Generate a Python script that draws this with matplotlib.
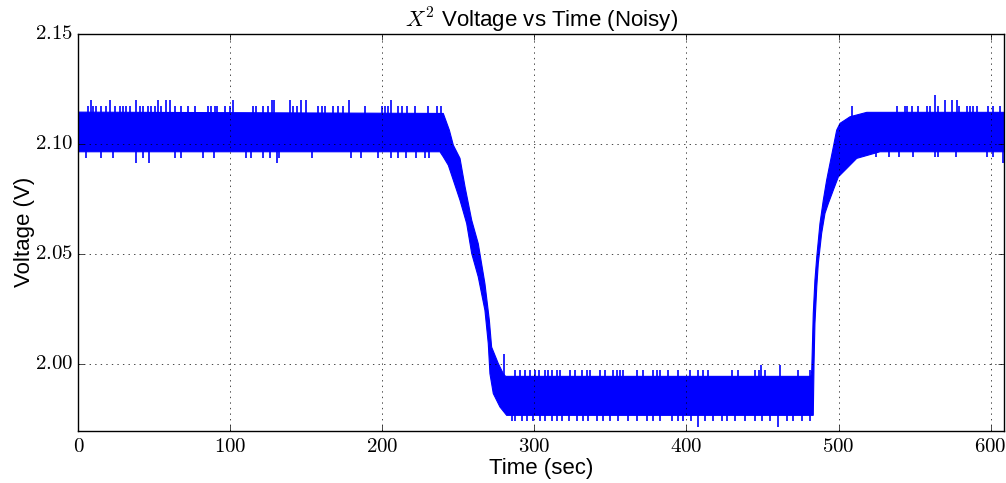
import numpy as np
import matplotlib
matplotlib.use('Agg')
import matplotlib.pyplot as plt
from matplotlib.ticker import FuncFormatter

# envelope of the noisy band (time in sec, volts)
t_upper = [0, 240.0, 244.0, 246.6, 251.0, 254.3, 258.7, 263.0, 267.4, 270.3,
           271.8, 276.2, 279.5, 281.0, 481.8, 482.4, 483.4, 484.5, 485.7, 487.8,
           490.0, 492.2, 494.4, 496.6, 498.8, 501.0, 507.6, 518.6, 609.2]
v_upper = [2.1143, 2.1137, 2.1061, 2.0993, 2.0933, 2.0804, 2.0652, 2.0546, 2.0364, 2.0198,
           2.0076, 2.0001, 1.9955, 1.9943, 1.9943, 1.9970, 2.0228, 2.0380, 2.0485, 2.0637,
           2.0743, 2.0834, 2.0910, 2.0985, 2.1061, 2.1092, 2.1122, 2.1142, 2.1142]

t_lower = [0, 237.8, 240.0, 243.3, 246.6, 251.0, 255.4, 258.7, 263.0, 267.4,
           269.6, 270.7, 272.9, 277.3, 281.7, 483.4, 483.9, 484.5, 485.7, 486.7,
           488.9, 491.1, 493.3, 496.6, 499.9, 505.4, 512.0, 527.3, 609.2]
v_lower = [2.0963, 2.0963, 2.0940, 2.0902, 2.0834, 2.0743, 2.0637, 2.0501, 2.0395, 2.0243,
           2.0092, 1.9955, 1.9865, 1.9804, 1.9766, 1.9766, 2.0001, 2.0183, 2.0349, 2.0455,
           2.0592, 2.0683, 2.0728, 2.0789, 2.0849, 2.0887, 2.0933, 2.0963, 2.0963]

# noise spikes sticking out of the band
high_level = 2.105
low_level = 1.985

high_up_t = [6.25, 8.0, 9.5, 11.7, 14.6, 18.3, 20.9, 23.8, 27.1, 29.3, 31.5, 33.7, 38.0,
             40.2, 42.4, 45.7, 47.9, 50.1, 52.3, 54.5, 57.8, 60.0, 63.3, 67.6, 72.0, 76.9,
             85.2, 87.4, 89.6, 91.3, 96.2, 99.5, 101.6, 114.8, 117.0, 121.4,
             124.9, 127.1, 128.8, 139.1, 141.3, 144.0, 146.4, 149.5, 157.3, 160.0, 162.2,
             167.7, 170.9, 174.2, 178.0, 188.5, 199.5, 201.6, 203.8, 205.6, 210.0, 212.6,
             215.9, 221.4, 230.1, 235.6, 238.5,
             508.7, 538.3, 543.8, 545.3, 548.1, 552.5, 558.0, 560.2, 563.5, 565.7, 570.1,
             574.5, 577.7, 579.5, 584.3, 586.5, 588.7, 590.9, 598.6, 601.9, 606.3]
high_up_v = [2.117, 2.1198, 2.117, 2.117, 2.117, 2.117, 2.1198, 2.117, 2.117, 2.117, 2.117, 2.117, 2.1198,
             2.117, 2.117, 2.117, 2.117, 2.117, 2.1198, 2.117, 2.1198, 2.1198, 2.117, 2.117, 2.117, 2.117,
             2.117, 2.117, 2.117, 2.117, 2.117, 2.117, 2.1198, 2.117, 2.117, 2.117,
             2.117, 2.1198, 2.1198, 2.1198, 2.117, 2.117, 2.1198, 2.1198, 2.117, 2.117, 2.117,
             2.117, 2.117, 2.117, 2.1198, 2.117, 2.117, 2.117, 2.117, 2.1198, 2.117, 2.117,
             2.117, 2.117, 2.117, 2.117, 2.117,
             2.117, 2.117, 2.117, 2.117, 2.117, 2.117, 2.117, 2.117, 2.122, 2.117, 2.1198,
             2.1198, 2.1198, 2.117, 2.117, 2.117, 2.117, 2.117, 2.117, 2.117, 2.117]

high_down_t = [5.1, 15.0, 22.7, 37.6, 42.4, 46.2, 63.7, 67.6, 81.9, 89.1, 110.4, 113.3, 121.4,
               126.0, 130.4, 131.9, 153.4, 179.3, 185.9, 196.8, 205.6, 210.0, 215.2, 221.8,
               228.0, 230.6,
               524.7, 533.4, 540.0, 549.2, 563.5, 565.7, 577.3, 597.5, 601.9, 608.0]
high_down_v = [2.0935, 2.0935, 2.0935, 2.091, 2.0935, 2.091, 2.0935, 2.0935, 2.0935, 2.0935, 2.0935, 2.0935, 2.0935,
               2.0935, 2.091, 2.0935, 2.0935, 2.0935, 2.0935, 2.0935, 2.0935, 2.0935, 2.0935, 2.0935,
               2.0935, 2.0935,
               2.094, 2.094, 2.094, 2.094, 2.094, 2.094, 2.094, 2.094, 2.094, 2.0913]

low_up_t = [279.9, 287.2, 290.4, 293.7, 297.0, 300.3, 303.2, 306.9, 309.1, 311.3, 314.6, 316.8,
            323.3, 326.6, 331.0, 334.3, 336.5, 343.1, 346.4, 351.8, 354.0, 356.2, 358.4, 367.2,
            371.6, 378.2, 380.4, 382.6, 388.1, 394.7, 402.3, 407.8, 411.1, 414.4, 430.2, 434.1,
            445.1, 447.7, 449.0, 451.7, 461.5, 473.2, 481.3]
low_up_v = [2.0046, 1.997, 1.997, 1.997, 1.997, 1.997, 1.997, 1.997, 1.997, 1.997, 1.997, 1.997,
            1.997, 1.997, 1.997, 1.997, 1.997, 1.997, 1.997, 1.997, 1.997, 1.997, 1.997, 1.997,
            1.997, 1.997, 1.997, 1.997, 1.997, 1.997, 1.997, 1.997, 1.997, 1.997, 1.997, 1.997,
            1.997, 1.997, 1.9993, 1.997, 1.9993, 1.997, 1.997]

low_down_t = [284.9, 287.2, 291.5, 294.8, 298.8, 303.6, 306.9, 311.3, 314.6, 317.9, 322.9,
              327.7, 332.1, 335.4, 340.9, 345.3, 349.7, 355.1, 361.7, 367.2, 373.8, 378.2,
              382.6, 390.3, 394.7, 397.9, 403.0, 407.8, 412.2, 417.7, 423.2, 426.4, 431.9,
              438.5, 445.1, 449.5, 455.0, 460.4, 465.9, 470.3, 475.8, 481.3]
low_down_v = [1.9739] * 27 + [1.9713] + [1.9739] * 9 + [1.9713] + [1.9739] * 4

plt.style.use('classic')
plt.rcParams['font.family'] = ['Liberation Sans', 'DejaVu Sans']
plt.rcParams['mathtext.fontset'] = 'cm'

fig = plt.figure(figsize=(10.06, 4.83), dpi=100, facecolor='white')
ax = fig.add_axes([0.078, 0.1077, 0.9205, 0.8229])

band_x = t_upper + t_lower[::-1]
band_y = v_upper + v_lower[::-1]
ax.fill(band_x, band_y, color='b', lw=0.8)
ax.vlines(high_up_t, high_level, high_up_v, color='b', lw=1.2)
ax.vlines(high_down_t, high_level, high_down_v, color='b', lw=1.2)
ax.vlines(low_up_t, low_level, low_up_v, color='b', lw=1.2)
ax.vlines(low_down_t, low_level, low_down_v, color='b', lw=1.2)

ax.set_xlim(0, t_upper[-1])
ax.set_ylim(1.9695, 2.15)
ax.set_xticks([0, 100, 200, 300, 400, 500, 600])
ax.set_yticks([2.00, 2.05, 2.10, 2.15])
ax.xaxis.set_major_formatter(FuncFormatter(lambda v, p: '$%d$' % v))
ax.yaxis.set_major_formatter(FuncFormatter(lambda v, p: '$%.2f$' % v))
ax.tick_params(labelsize=15)
ax.grid(True, color='k', linestyle=':')

ax.set_title('$X^2$ Voltage vs Time (Noisy)', fontsize=16, pad=4)
ax.set_xlabel('Time (sec)', fontsize=16, labelpad=2)
ax.set_ylabel('Voltage (V)', fontsize=16, labelpad=0)

fig.savefig('out.png', dpi=100, facecolor='white')
